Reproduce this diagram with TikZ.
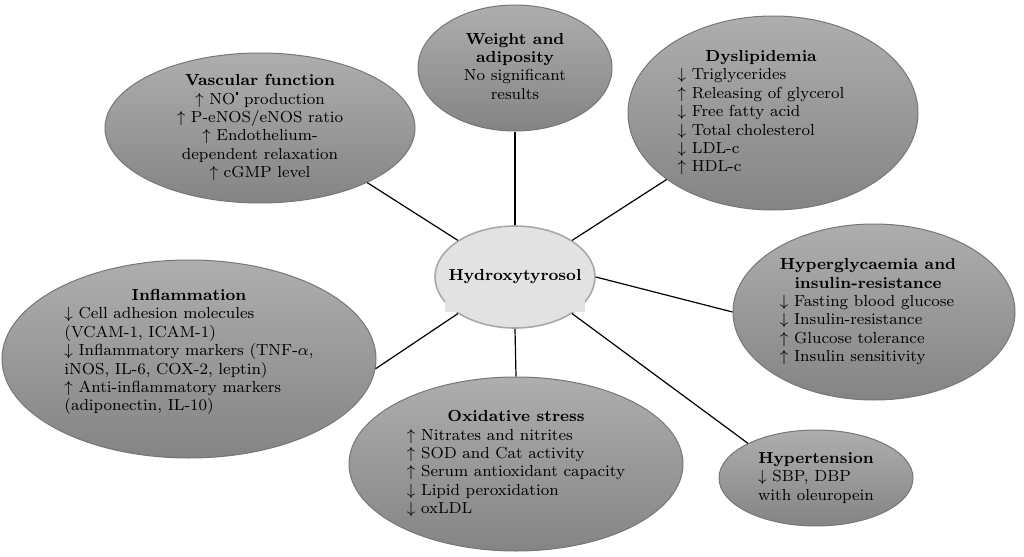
\documentclass[tikz,border=0pt]{standalone}
\usepackage{amsmath}
\usepackage{amssymb}
\usepackage{tikz}
\usetikzlibrary{shapes.geometric}
\definecolor{blobtop}{RGB}{174,174,174}
\definecolor{blobbot}{RGB}{132,132,132}
\definecolor{blobline}{RGB}{118,118,118}
\definecolor{hubfill}{RGB}{226,226,226}
\definecolor{hubline}{RGB}{168,168,168}
\newcommand{\upar}{$\uparrow$\ }
\newcommand{\dnar}{$\downarrow$\ }
\newcommand{\headln}[1]{\multicolumn{1}{@{}c@{}}{\bfseries #1}}

\begin{document}
\begin{tikzpicture}[x=0.5pt,y=-0.5pt,
    blob/.style={ellipse, draw=blobline, line width=0.5pt, top color=blobtop, bottom color=blobbot, inner sep=0pt},
    hub/.style={ellipse, draw=hubline, line width=0.8pt, fill=hubfill, inner sep=0pt},
    lbl/.style={font=\fontsize{8}{9.2}\selectfont, inner sep=0pt},
    link/.style={line width=0.6pt}]
    \useasboundingbox (0,0) rectangle (1024,557);
    % outer ellipses
    \node[blob, minimum width=155pt, minimum height=75pt, label={[lbl]center:{\begin{tabular}{@{}c@{}}\bfseries Vascular function\\ \upar NO\kern0.3pt\rule[4.6pt]{1.3pt}{1.3pt} production\\ \upar P-eNOS/eNOS ratio\\ \upar Endothelium-\\ dependent relaxation\\ \upar cGMP level\end{tabular}}}] (vasc) at (260,128) {};
    \node[blob, minimum width=97pt, minimum height=63pt, label={[lbl]center:{\begin{tabular}{@{}c@{}}\bfseries Weight and\\ \bfseries adiposity\\ No significant\\ results\end{tabular}}}] (weight) at (515,68) {};
    \node[blob, minimum width=145pt, minimum height=97pt, label={[lbl, xshift=-6pt]center:{\begin{tabular}{@{}l@{}}\headln{Dyslipidemia}\\ \dnar Triglycerides\\ \upar Releasing of glycerol\\ \dnar Free fatty acid\\ \dnar Total cholesterol\\ \dnar LDL-c\\ \upar HDL-c\end{tabular}}}] (dys) at (773,113) {};
    \node[blob, minimum width=141pt, minimum height=88pt, label={[lbl, xshift=-3pt]center:{\begin{tabular}{@{}l@{}}\headln{Hyperglycaemia and}\\ \headln{insulin-resistance}\\ \dnar Fasting blood glucose\\ \dnar Insulin-resistance\\ \upar Glucose tolerance\\ \upar Insulin sensitivity\end{tabular}}}] (hyper) at (874,312) {};
    \node[blob, minimum width=187pt, minimum height=99pt, label={[lbl, yshift=3.5pt]center:{\begin{tabular}{@{}l@{}}\headln{Inflammation}\\ \dnar Cell adhesion molecules\\ (VCAM-1, ICAM-1)\\ \dnar Inflammatory markers (TNF-$\alpha$,\\ iNOS, IL-6, COX-2, leptin)\\ \upar Anti-inflammatory markers\\ (adiponectin, IL-10)\end{tabular}}}] (infl) at (189,359) {};
    \node[blob, minimum width=167pt, minimum height=87pt, label={[lbl]center:{\begin{tabular}{@{}l@{}}\headln{Oxidative stress}\\ \upar Nitrates and nitrites\\ \upar SOD and Cat activity\\ \upar Serum antioxidant capacity\\ \dnar Lipid peroxidation\\ \dnar oxLDL\end{tabular}}}] (oxid) at (516,464) {};
    \node[blob, minimum width=97pt, minimum height=48pt, label={[lbl]center:{\begin{tabular}{@{}l@{}}\headln{Hypertension}\\ \dnar SBP, DBP\\ with oleuropein\end{tabular}}}] (hyp) at (816,478) {};
    % centre
    \node[hub, minimum width=80pt, minimum height=51pt, label={[lbl]center:{\bfseries Hydroxytyrosol}}] (hub) at (515,277) {};
    \fill[hubfill] (445,300) rectangle (585,312);
    % connectors
    \draw[link] (hub.north west) -- (vasc.-27);
    \draw[link] (hub.north) -- (weight.south);
    \draw[link] (hub.north east) -- (dys.212);
    \draw[link] (hub.east) -- (hyper.west);
    \draw[link] (hub.south west) -- (infl.-3);
    \draw[link] (hub.south) -- (oxid.north);
    \draw[link] (hub.south east) -- (hyp.153);
\end{tikzpicture}
\end{document}
